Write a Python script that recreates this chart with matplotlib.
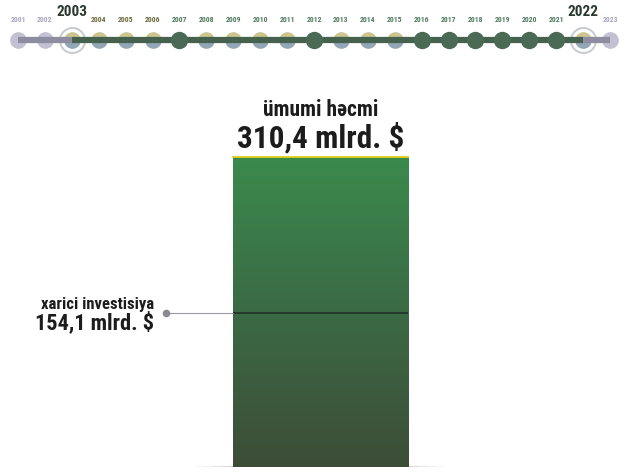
import numpy as np
import matplotlib
matplotlib.use('Agg')
import matplotlib.pyplot as plt
from matplotlib import font_manager
from matplotlib.colors import LinearSegmentedColormap

# data
years = list(range(2001, 2024))
highlight = [2003, 2022]
solid_years = [2007, 2012, 2016, 2017, 2018, 2019, 2020, 2021]
gray_years = [2001, 2002, 2023]
total = 310.4
foreign = 154.1
total_label = ['ümumi həcmi', '310,4 mlrd. $']
foreign_label = ['xarici investisiya', '154,1 mlrd. $']

names = {f.name for f in font_manager.fontManager.ttflist}
font = 'DejaVu Sans'
for cand in ['Roboto Condensed', 'Barlow Condensed', 'Open Sans Condensed']:
    if cand in names:
        font = cand
        break
plt.rcParams['font.family'] = [font, 'DejaVu Sans']
W = 'heavy' if font != 'DejaVu Sans' else 'bold'

fig = plt.figure(figsize=(6.31, 4.73), dpi=100)
fig.patch.set_facecolor('white')

# timeline strip
ax_t = fig.add_axes([0, 1 - 60 / 473, 1, 60 / 473])
ax_t.set_xlim(2000.33, 2023.78)
ax_t.set_ylim(60, 0)
ax_t.axis('off')
yl = 40
ax_t.plot([2001, 2003], [yl, yl], color='#8d8ca0', lw=4.5, zorder=2, solid_capstyle='butt')
ax_t.plot([2003, 2022], [yl, yl], color='#46624f', lw=4.5, zorder=2, solid_capstyle='butt')
ax_t.plot([2022, 2023], [yl, yl], color='#8d8ca0', lw=4.5, zorder=2, solid_capstyle='butt')

for y in years:
    if y in solid_years:
        ax_t.plot(y, yl, 'o', ms=12.5, color='#4a6a56', mec='none', zorder=3)
    elif y in gray_years:
        ax_t.plot(y, yl, 'o', ms=12, mfc='#bdb9cc', mec='none', alpha=0.9, zorder=1)
    else:
        ax_t.plot(y, yl, 'o', ms=12, fillstyle='top', mfc='#c2bb7c',
                  markerfacecoloralt='#7f97a8', mec='none', alpha=0.85, zorder=1)
    if y in highlight:
        ax_t.plot(y, yl, 'o', ms=18, mfc='none', mec='#c9cdd0', mew=1.5, zorder=1)
        ax_t.text(y, 12, str(y), ha='center', va='center', fontsize=11,
                  fontweight=W, color='#2a3a30')
    else:
        c = '#a9a7c0' if y in gray_years else ('#6b6a3c' if y < 2007 else '#4f7a5f')
        ax_t.text(y, 19, str(y), ha='center', va='center', fontsize=5.5,
                  fontweight='bold', color=c)

# bar
ax = fig.add_axes([0, 6 / 473, 1, 460 / 473])
ax.set_xlim(-1.831, 1.774)
ax.set_ylim(0, 460)
ax.axis('off')

bars = ax.bar([0], [total], width=1, color='none', zorder=2)
cmap = LinearSegmentedColormap.from_list('g', ['#3d4d37', '#3b6a45', '#3a8a4c'])
grad = np.linspace(0, 1, 256).reshape(-1, 1)
im = ax.imshow(grad, extent=(-0.5, 0.5, 0, total), origin='lower', cmap=cmap,
               aspect='auto', zorder=1)
im.set_clip_path(bars[0])
ax.plot([-0.5, 0.5], [total, total], color='#e3cf1c', lw=1.3, zorder=3)

# shadow under bar
for i, a in enumerate(np.linspace(0.12, 0.02, 6)):
    ax.plot([-0.5 - 0.05 * i, 0.5 + 0.05 * i], [-1, -1], color='gray', lw=3, alpha=a, zorder=0)

ax.text(0, 357, total_label[0], ha='center', va='center', fontsize=15.5,
        fontweight=W, color='#1c1c1c')
ax.text(0, 329, total_label[1], ha='center', va='center', fontsize=22.5,
        fontweight=W, color='#1c1c1c')

# foreign investment marker
ax.hlines(foreign, -0.5, 0.5, color='#24352b', lw=1.3, zorder=3)
ax.hlines(foreign, -0.88, -0.5, color='#9a9aa8', lw=0.8, zorder=3)
ax.plot(-0.88, foreign, 'o', ms=4.5, color='#8a8a90', zorder=4)
ax.text(-0.95, 163, foreign_label[0], ha='right', va='center', fontsize=12,
        fontweight=W, color='#1c1c1c')
ax.text(-0.95, 144, foreign_label[1], ha='right', va='center', fontsize=16,
        fontweight=W, color='#1c1c1c')

fig.savefig('out.png', dpi=100)
